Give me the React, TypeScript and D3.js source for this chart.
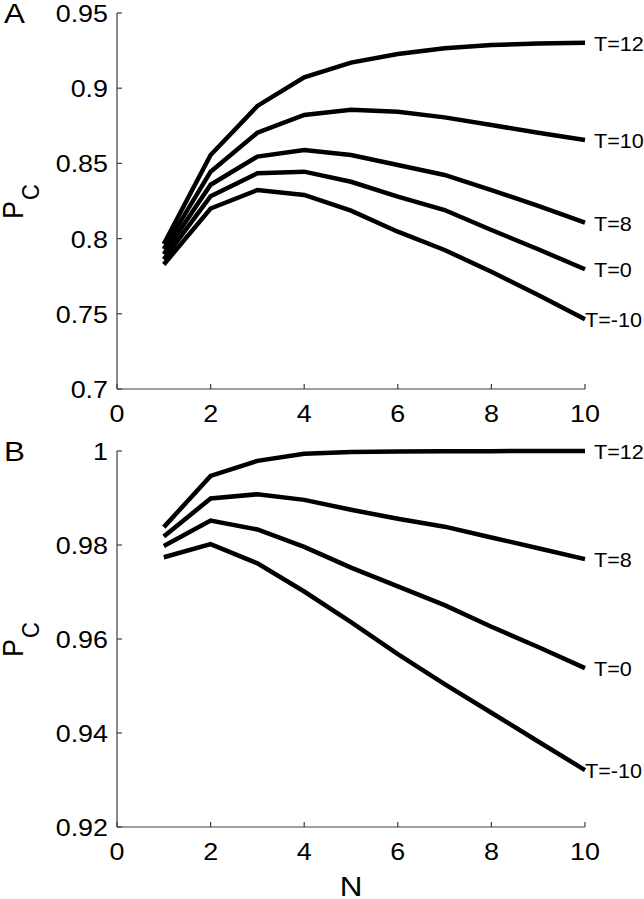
import React from "react";
import * as d3 from "d3";

const nValues = [1, 2, 3, 4, 5, 6, 7, 8, 9, 10];
const xTicks = [0, 2, 4, 6, 8, 10];

// Panel A
const seriesLabelsA = ["T=12", "T=10", "T=8", "T=0", "T=-10"];
const aT12 = [0.7964, 0.8556, 0.8882, 0.9072, 0.917, 0.9227, 0.9265, 0.9287, 0.9298, 0.9303];
const aT10 = [0.793, 0.8445, 0.8704, 0.8822, 0.8856, 0.8844, 0.8806, 0.8755, 0.8704, 0.8656];
const aT8 = [0.7896, 0.8358, 0.8545, 0.8589, 0.8556, 0.8489, 0.8423, 0.8323, 0.8217, 0.8106];
const aT0 = [0.7862, 0.8282, 0.8434, 0.8445, 0.8378, 0.8279, 0.819, 0.8057, 0.7929, 0.7796];
const aTm10 = [0.7828, 0.82, 0.8323, 0.829, 0.8186, 0.8046, 0.7924, 0.778, 0.7625, 0.7463];
const yTicksA = [0.7, 0.75, 0.8, 0.85, 0.9, 0.95];
const yTickLabelsA = ["0.7", "0.75", "0.8", "0.85", "0.9", "0.95"];

// Panel B
const seriesLabelsB = ["T=12", "T=8", "T=0", "T=-10"];
const bT12 = [0.9838, 0.9947, 0.9979, 0.9994, 0.9998, 0.9999, 0.99995, 0.99997, 0.99998, 0.99999];
const bT8 = [0.9818, 0.9899, 0.9908, 0.9896, 0.9875, 0.9856, 0.9839, 0.9816, 0.9793, 0.977];
const bT0 = [0.9798, 0.9852, 0.9833, 0.9796, 0.9752, 0.9712, 0.9672, 0.9626, 0.9583, 0.9538];
const bTm10 = [0.9774, 0.9802, 0.9761, 0.9701, 0.9636, 0.9568, 0.9504, 0.9443, 0.9382, 0.9321];
const yTicksB = [0.92, 0.94, 0.96, 0.98, 1];
const yTickLabelsB = ["0.92", "0.94", "0.96", "0.98", "1"];

const FONT = "'Liberation Sans', Arial, Helvetica, sans-serif";
const AXIS_COLOR = "#3c3c3c";

type PanelProps = {
  letter: string;
  top: number;
  bottom: number;
  yDomain: [number, number];
  yTicks: number[];
  yTickLabels: string[];
  series: number[][];
  labels: string[];
};

const X0 = 117;
const X1 = 585;

function SText(props: {
  x: number;
  y: number;
  size: number;
  sx?: number;
  anchor?: string;
  rotate?: boolean;
  children: React.ReactNode;
}) {
  const { x, y, size, sx = 1.12, anchor = "start", rotate = false, children } = props;
  return (
    <text
      transform={`translate(${x},${y}) scale(${sx},1)${rotate ? " rotate(-90)" : ""}`}
      fontSize={size}
      fontFamily={FONT}
      textAnchor={anchor}
      fill="#000"
    >
      {children}
    </text>
  );
}

function Panel({ letter, top, bottom, yDomain, yTicks, yTickLabels, series, labels }: PanelProps) {
  const x = d3.scaleLinear().domain([0, 10]).range([X0, X1]);
  const y = d3.scaleLinear().domain(yDomain).range([bottom, top]);
  const line = d3
    .line<number>()
    .x((_, i) => x(nValues[i]))
    .y((d) => y(d));
  const mid = (top + bottom) / 2;
  return (
    <g>
      <SText x={4} y={top + 10} size={28}>
        {letter}
      </SText>
      <SText x={23} y={mid + 18} size={27} rotate>
        P
      </SText>
      <SText x={39} y={mid - 1} size={22} rotate>
        C
      </SText>
      <line x1={X0} x2={X0} y1={top} y2={bottom} stroke={AXIS_COLOR} strokeWidth={1.2} />
      <line x1={X0} x2={X1} y1={bottom} y2={bottom} stroke={AXIS_COLOR} strokeWidth={1.2} />
      {yTicks.map((t, i) => (
        <g key={"yt" + i}>
          <line x1={X0} x2={X0 + 5} y1={y(t)} y2={y(t)} stroke={AXIS_COLOR} strokeWidth={1.2} />
          <SText x={108} y={y(t) + 9} size={24} anchor="end">
            {yTickLabels[i]}
          </SText>
        </g>
      ))}
      {xTicks.map((t, i) => (
        <g key={"xt" + i}>
          <line x1={x(t)} x2={x(t)} y1={bottom} y2={bottom - 5} stroke={AXIS_COLOR} strokeWidth={1.2} />
          <SText x={x(t)} y={bottom + 33} size={24} anchor="middle">
            {String(t)}
          </SText>
        </g>
      ))}
      {series.map((s, i) => (
        <path
          key={"s" + i}
          d={line(s) || ""}
          fill="none"
          stroke="#000"
          strokeWidth={4.5}
          strokeLinejoin="miter"
          strokeLinecap="butt"
        />
      ))}
      {series.map((s, i) => {
        const gap = labels[i].includes("-") ? 0 : 9;
        return (
          <SText key={"l" + i} x={x(10) + gap} y={y(s[s.length - 1]) + 8} size={20} sx={1.08}>
            {labels[i]}
          </SText>
        );
      })}
    </g>
  );
}

export default function App() {
  return (
    <svg
      width={644}
      height={899}
      style={{ position: "absolute", left: 0, top: 0, background: "#fff" }}
    >
      <rect width={644} height={899} fill="#fff" />
      <Panel
        letter="A"
        top={13}
        bottom={389}
        yDomain={[0.7, 0.95]}
        yTicks={yTicksA}
        yTickLabels={yTickLabelsA}
        series={[aT12, aT10, aT8, aT0, aTm10]}
        labels={seriesLabelsA}
      />
      <Panel
        letter="B"
        top={451}
        bottom={827}
        yDomain={[0.92, 1]}
        yTicks={yTicksB}
        yTickLabels={yTickLabelsB}
        series={[bT12, bT8, bT0, bTm10]}
        labels={seriesLabelsB}
      />
      <SText x={(X0 + X1) / 2} y={896} size={28} anchor="middle">
        N
      </SText>
    </svg>
  );
}
